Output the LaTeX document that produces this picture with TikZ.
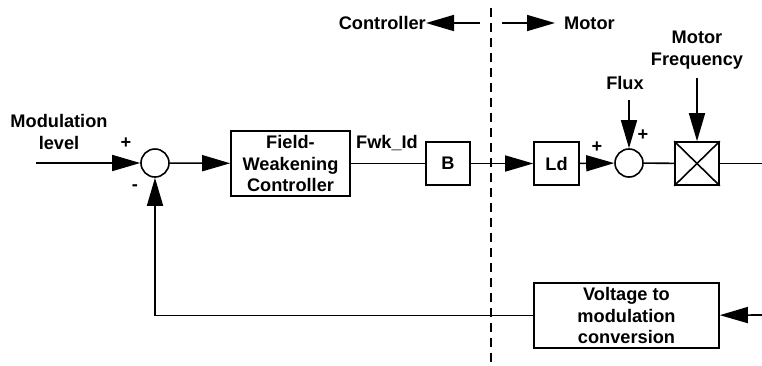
\documentclass[tikz,border=0pt]{standalone}
\usepackage{fontspec}
\setmainfont{Liberation Sans}
\usetikzlibrary{arrows.meta}
\tikzset{
	sig/.style={line width=1.6pt, -{Triangle[length=28pt,width=16pt]}},
	wire/.style={line width=1.6pt},
	blk/.style={draw, line width=1.6pt, inner sep=0pt, align=center},
	sumnode/.style={draw, circle, line width=1.6pt, minimum size=28pt, inner sep=0pt},
	lbl/.style={inner sep=0pt, align=center}
}

\begin{document}
\begin{tikzpicture}[x=1pt, y=-1pt, font=\fontsize{18.2}{21.5}\selectfont\bfseries]
		%%%%% START %%%%%
		\useasboundingbox (0,0) rectangle (762,365);
		
		% forward path
		\coordinate (modin) at (36,163);
		\node[sumnode] (sumA) at (155,163) {};
		\node[blk, minimum width=119pt, minimum height=65pt] (fwc) at (290.5,163.5) {Field-\\Weakening\\Controller};
		\node[blk, minimum width=44pt, minimum height=43pt] (bblk) at (448,163.5) {B};
		\node[blk, minimum width=45pt, minimum height=43pt] (ldblk) at (556.5,163.5) {Ld};
		\node[sumnode] (sumB) at (629,163) {};
		\node[blk, minimum width=44pt, minimum height=43pt] (mult) at (697,163.5) {};
		\draw[wire] (mult.north west) -- (mult.south east);
		\draw[wire] (mult.south west) -- (mult.north east);
		\coordinate (fwdout) at (762,163.5);
		
		% feedback path
		\coordinate (fbin) at (762,315);
		\node[blk, minimum width=185pt, minimum height=65pt] (vmc) at (626.5,315.5) {Voltage to\\modulation\\conversion};
		\coordinate (fbcorner) at (155,315.5);
		
		% inputs from above
		\node[lbl] (flux) at (625,83) {Flux};
		\coordinate (fluxfrom) at (629,100);
		\node[lbl] (freq) at (697,50) {Motor\\Frequency};
		\coordinate (freqfrom) at (697,78);
		
		% labels
		\node[lbl] (modlvl) at (59,132) {Modulation\\level};
		\node[lbl] (plusA) at (126,143) {+};
		\node[lbl] (minusA) at (135,188) {-};
		\node[lbl] (fwkid) at (387,143) {Fwk\_Id};
		\node[lbl] (plusB) at (597,147) {+};
		\node[lbl] (plusC) at (643,135) {+};
		
		% controller / motor divide
		\coordinate (divtop) at (491,8);
		\coordinate (divbot) at (491,365);
		\draw[wire, dash pattern=on 9pt off 6pt] (divtop) -- (divbot);
		\node[lbl, anchor=east] (ctl) at (426,23) {Controller};
		\coordinate (ctlfrom) at (480,23);
		\node[lbl, anchor=west] (mot) at (564,23) {Motor};
		\coordinate (motfrom) at (502,23);
		\coordinate (mottip) at (555,23);
		\draw[sig] (ctlfrom) -- (ctl);
		\draw[sig] (motfrom) -- (mottip);
		
		% connectors
		\draw[sig] (modin) -- (sumA);
		\draw[sig] (sumA) -- (fwc);
		\draw[wire] (fwc) -- (bblk);
		\draw[sig] (bblk) -- (ldblk);
		\draw[sig] (ldblk) -- (sumB);
		\draw[wire] (sumB) -- (mult);
		\draw[wire] (mult) -- (fwdout);
		\draw[sig] (fluxfrom) -- (sumB);
		\draw[sig] (freqfrom) -- (mult);
		\draw[sig] (fbin) -- (vmc);
		\draw[sig] (vmc) -- (fbcorner) -- (sumA);
		%%%%% END %%%%%
	\end{tikzpicture}
\end{document}
